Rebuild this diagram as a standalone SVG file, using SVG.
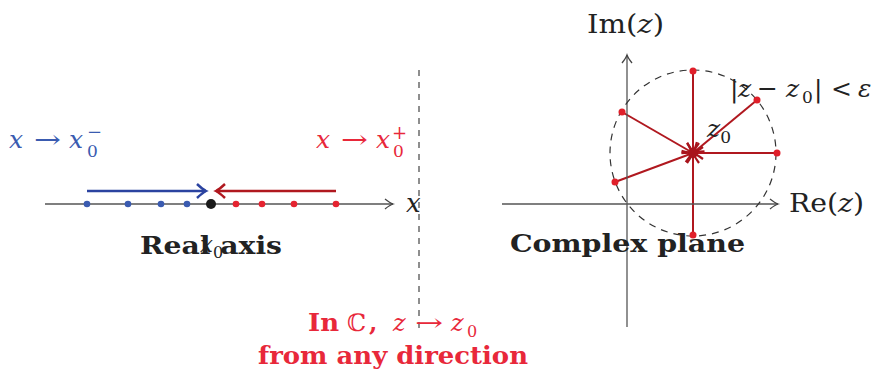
<svg xmlns="http://www.w3.org/2000/svg" width="873" height="372" viewBox="0 0 873 372">
<style>
.ax{stroke:#555;stroke-width:1.3;fill:none}
.m{font-family:"DejaVu Serif","Liberation Serif",serif;font-style:italic}
.rm{font-family:"DejaVu Serif","Liberation Serif",serif;font-style:normal}
.b{font-family:"DejaVu Serif","Liberation Serif",serif;font-weight:bold}
.ink{fill:#222}
.blue{fill:#3a5bb0}
.red{fill:#e8283a}
.ray{stroke:#b0181f;stroke-width:2;fill:none}
</style>
<defs>
<marker id="ah" markerUnits="userSpaceOnUse" markerWidth="14" markerHeight="14" refX="0" refY="0" viewBox="-10 -7 12 14" orient="auto">
<path d="M-8,-5 Q-3,-1 0,0 Q-3,1 -8,5" fill="none" stroke="#444" stroke-width="1.3"/>
</marker>
<marker id="bh" markerUnits="userSpaceOnUse" markerWidth="16" markerHeight="18" refX="0" refY="0" viewBox="-12 -9 14 18" orient="auto">
<path d="M-9,-7 Q-3,-1.5 0,0 Q-3,1.5 -9,7" fill="none" stroke="#2b43a0" stroke-width="2.5"/>
</marker>
<marker id="rh" markerUnits="userSpaceOnUse" markerWidth="16" markerHeight="18" refX="0" refY="0" viewBox="-12 -9 14 18" orient="auto">
<path d="M-9,-7 Q-3,-1.5 0,0 Q-3,1.5 -9,7" fill="none" stroke="#b0181f" stroke-width="2.5"/>
</marker>
<marker id="sh" markerUnits="userSpaceOnUse" markerWidth="16" markerHeight="16" refX="0" refY="0" viewBox="-12 -8 14 16" orient="auto">
<path d="M-10,-6 Q-3,-1 0,0 Q-3,1 -10,6" fill="none" stroke="#a8141c" stroke-width="2.2"/>
</marker>
</defs>

<g id="real-axis">
<line class="ax" x1="45" y1="204" x2="393" y2="204" marker-end="url(#ah)"/>
<text class="m ink" x="406" y="212" font-size="26">x</text>
</g>

<g id="divider">
<line x1="419" y1="70" x2="419" y2="330" stroke="#444" stroke-width="1.2" stroke-dasharray="6,6"/>
</g>

<g id="connectors">
<line x1="87" y1="191" x2="206" y2="191" stroke="#2b43a0" stroke-width="2.5" marker-end="url(#bh)"/>
<line x1="336" y1="191" x2="216" y2="191" stroke="#b0181f" stroke-width="2.5" marker-end="url(#rh)"/>
<line class="ray" x1="693" y1="71" x2="693" y2="153"/>
<line class="ray" x1="693" y1="235" x2="693" y2="153"/>
<line class="ray" x1="757" y1="100" x2="693" y2="153" marker-end="url(#sh)"/>
<line class="ray" x1="777" y1="153" x2="693" y2="153" marker-end="url(#sh)"/>
<line class="ray" x1="622" y1="112" x2="693" y2="153" marker-end="url(#sh)"/>
<line class="ray" x1="615" y1="182" x2="693" y2="153" marker-end="url(#sh)"/>
<line class="ray" x1="693" y1="75" x2="693" y2="153" marker-end="url(#sh)"/>
<line class="ray" x1="693" y1="231" x2="693" y2="153" marker-end="url(#sh)"/>
</g>

<g id="left-dots">
<circle cx="87" cy="204" r="3.3" fill="#3a5bb0"/>
<circle cx="128" cy="204" r="3.3" fill="#3a5bb0"/>
<circle cx="161" cy="204" r="3.3" fill="#3a5bb0"/>
<circle cx="187" cy="204" r="3.3" fill="#3a5bb0"/>
<circle cx="211" cy="204" r="5" fill="#1a1a1a"/>
<circle cx="236" cy="204" r="3.3" fill="#e52330"/>
<circle cx="262" cy="204" r="3.3" fill="#e52330"/>
<circle cx="294" cy="204" r="3.3" fill="#e52330"/>
<circle cx="336" cy="204" r="3.3" fill="#e52330"/>
</g>

<g id="label-minus" class="blue">
<text class="m" x="9" y="148" font-size="25">x</text>
<text class="rm" x="34" y="148" font-size="25" textLength="27" lengthAdjust="spacingAndGlyphs">→</text>
<text class="m" x="69" y="148" font-size="25">x</text>
<text class="rm" x="87" y="157" font-size="17">0</text>
<text class="rm" x="87" y="138" font-size="18">−</text>
</g>
<g id="label-plus" class="red">
<text class="m" x="316" y="148" font-size="25">x</text>
<text class="rm" x="341" y="148" font-size="25" textLength="27" lengthAdjust="spacingAndGlyphs">→</text>
<text class="m" x="376" y="148" font-size="25">x</text>
<text class="rm" x="393" y="157" font-size="17">0</text>
<text class="rm" x="392" y="139" font-size="18">+</text>
</g>

<g id="real-title">
<text class="b ink" x="140" y="254" font-size="24" textLength="142" lengthAdjust="spacingAndGlyphs">Real axis</text>
<text class="m ink" x="200" y="252" font-size="23">x<tspan class="rm" font-size="16" dy="6">0</tspan></text>
</g>

<g id="complex-axes">
<line class="ax" x1="502" y1="204" x2="778" y2="204" marker-end="url(#ah)"/>
<line class="ax" x1="627" y1="327" x2="627" y2="55" marker-end="url(#ah)"/>
<text class="rm ink" x="789" y="212" font-size="26" textLength="75" lengthAdjust="spacingAndGlyphs">Re(<tspan class="m">z</tspan>)</text>
<text class="rm ink" x="587" y="33" font-size="26" textLength="77" lengthAdjust="spacingAndGlyphs">Im(<tspan class="m">z</tspan>)</text>
</g>

<g id="disk">
<circle cx="693" cy="153" r="83" fill="none" stroke="#333" stroke-width="1.2" stroke-dasharray="7,6"/>
<text class="rm ink" x="730" y="97" font-size="25">|</text>
<text class="m ink" x="738" y="97" font-size="25">z</text>
<text class="rm ink" x="757" y="97" font-size="25">−</text>
<text class="m ink" x="786" y="97" font-size="25">z</text>
<text class="rm ink" x="802" y="103" font-size="17">0</text>
<text class="rm ink" x="814" y="97" font-size="25">|</text>
<text class="rm ink" x="831" y="97" font-size="25">&lt;</text>
<text class="m ink" x="858" y="97" font-size="25">ε</text>
<text class="m ink" x="707" y="137" font-size="25">z<tspan class="rm" font-size="17" dy="6">0</tspan></text>
</g>

<g id="complex-dots">
<circle cx="693" cy="71" r="3.5" fill="#e01f2a"/>
<circle cx="757" cy="100" r="3.5" fill="#e01f2a"/>
<circle cx="777" cy="153" r="3.5" fill="#e01f2a"/>
<circle cx="693" cy="235" r="3.5" fill="#e01f2a"/>
<circle cx="622" cy="112" r="3.5" fill="#e01f2a"/>
<circle cx="615" cy="182" r="3.5" fill="#e01f2a"/>
<circle cx="693" cy="153" r="5" fill="#a8141c"/>
</g>

<g id="complex-title">
<text class="b ink" x="510" y="252" font-size="24" textLength="235" lengthAdjust="spacingAndGlyphs">Complex plane</text>
</g>

<g id="note" class="red">
<text class="b" x="308" y="331" font-size="24" textLength="31" lengthAdjust="spacingAndGlyphs">In</text>
<text class="rm" x="347" y="331" font-size="24">ℂ</text>
<text class="b" x="369" y="331" font-size="24">,</text>
<text class="m" x="393" y="331" font-size="24">z</text>
<text class="rm" x="415" y="331" font-size="24" textLength="28" lengthAdjust="spacingAndGlyphs">→</text>
<text class="m" x="451" y="331" font-size="24">z</text>
<text class="rm" x="467" y="337" font-size="16">0</text>
<text class="b" x="258" y="364" font-size="24" textLength="270" lengthAdjust="spacingAndGlyphs">from any direction</text>
</g>
</svg>
